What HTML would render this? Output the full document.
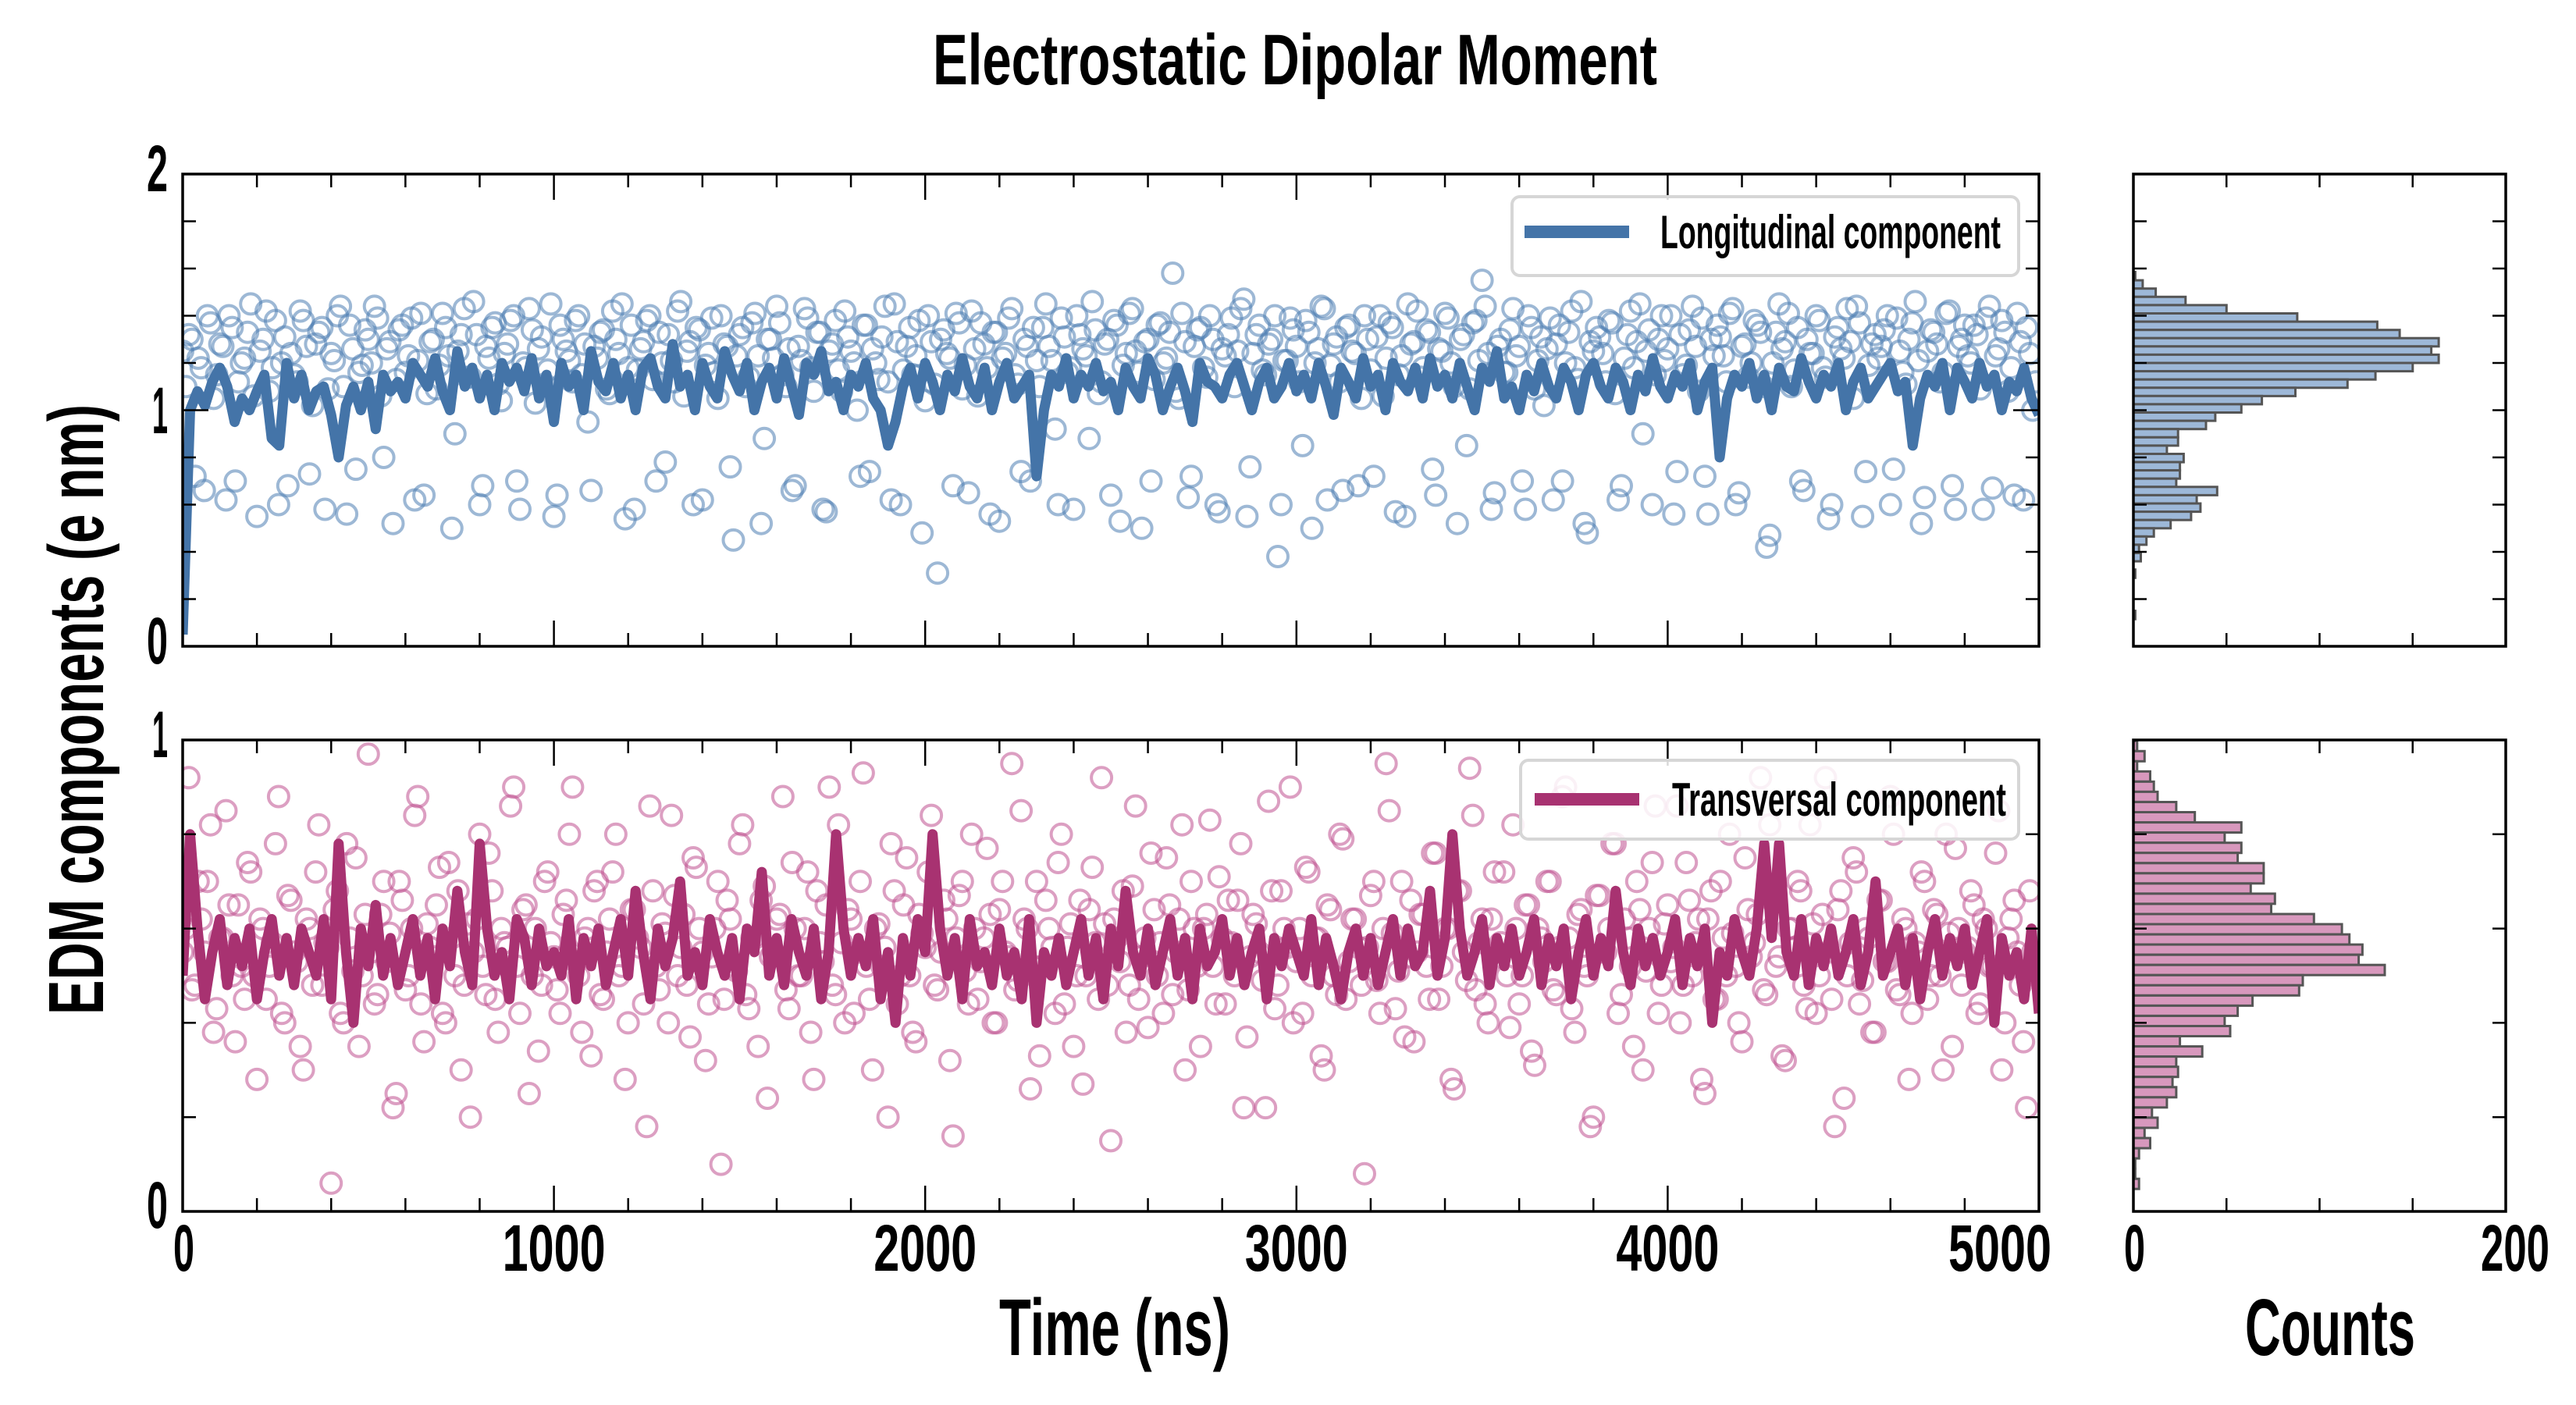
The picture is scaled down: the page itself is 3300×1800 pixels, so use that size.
<!DOCTYPE html>
<html><head><meta charset="utf-8"><style>
html,body{margin:0;padding:0;background:#fff;}
svg{display:block;font-family:"Liberation Sans Narrow","Liberation Sans",sans-serif;font-weight:bold;}
</style></head><body>
<svg id="fig" xmlns="http://www.w3.org/2000/svg" width="3300" height="1800" viewBox="0 0 3300 1800">
<defs>
<clipPath id="clipTop"><rect x="234" y="223" width="2378" height="605"/></clipPath>
<clipPath id="clipBot"><rect x="234" y="948" width="2378" height="604"/></clipPath>
</defs>
<text x="1659" y="108" text-anchor="middle" font-size="92" textLength="928" lengthAdjust="spacingAndGlyphs">Electrostatic Dipolar Moment</text>
<text transform="translate(132,909) rotate(-90)" text-anchor="middle" font-size="100" textLength="782" lengthAdjust="spacingAndGlyphs">EDM components (e nm)</text>
<text x="1428" y="1736" text-anchor="middle" font-size="103" textLength="296" lengthAdjust="spacingAndGlyphs">Time (ns)</text>
<text x="2985" y="1736" text-anchor="middle" font-size="103" textLength="218" lengthAdjust="spacingAndGlyphs">Counts</text>
<g id="gTop"></g>
<g id="gBot"></g>
<g id="gHT"></g>
<g id="gHB"></g>
<g id="gAx"></g>
<g>
<rect x="1937" y="252" width="649" height="101" rx="10" fill="#fff" fill-opacity="0.85" stroke="#d6d6d6" stroke-width="4"/>
<rect x="1953" y="289" width="134" height="16" fill="#4474a8"/>
<text x="2127" y="318" font-size="60" textLength="436" lengthAdjust="spacingAndGlyphs">Longitudinal component</text>
</g>
<g>
<rect x="1948" y="974" width="638" height="101" rx="10" fill="#fff" fill-opacity="0.85" stroke="#d6d6d6" stroke-width="4"/>
<rect x="1966" y="1016" width="134" height="16" fill="#a83271"/>
<text x="2142" y="1045" font-size="60" textLength="428" lengthAdjust="spacingAndGlyphs">Transversal component</text>
</g>
</svg>
<script>
const lineTopVals=[0.05,1.0,1.08,1.02,1.12,1.18,1.1,0.95,1.05,1.0,
1.08,1.15,0.88,0.85,1.2,1.05,1.15,1.0,1.08,1.1,
0.98,0.8,1.02,1.1,1.0,1.12,0.92,1.15,1.08,1.12,
1.05,1.2,1.15,1.1,1.22,1.08,1.0,1.25,1.1,1.18,
1.05,1.15,1.0,1.2,1.12,1.18,1.08,1.22,1.05,1.15,
0.95,1.2,1.1,1.15,1.0,1.25,1.12,1.08,1.2,1.05,
1.15,1.0,1.18,1.22,1.1,1.05,1.28,1.1,1.15,1.0,
1.2,1.1,1.05,1.25,1.15,1.08,1.2,1.0,1.12,1.18,
1.05,1.22,1.1,0.98,1.2,1.15,1.25,1.08,1.12,1.0,
1.15,1.1,1.2,1.05,1.0,0.85,0.95,1.1,1.18,1.05,
1.2,1.12,1.0,1.15,1.08,1.22,1.1,1.05,1.18,1.0,
1.12,1.2,1.05,1.1,1.15,0.72,1.0,1.15,1.1,1.22,
1.05,1.15,1.1,1.2,1.08,1.12,1.0,1.18,1.1,1.05,
1.22,1.15,1.0,1.1,1.18,1.08,0.95,1.2,1.12,1.1,
1.05,1.15,1.2,1.1,1.0,1.12,1.18,1.05,1.1,1.2,
1.08,1.15,1.05,1.2,1.1,0.98,1.18,1.12,1.05,1.22,
1.1,1.15,1.0,1.2,1.12,1.08,1.18,1.05,1.22,1.1,
1.15,1.05,1.2,1.1,1.0,1.18,1.12,1.25,1.05,1.1,
1.0,1.15,1.08,1.2,1.1,1.05,1.18,1.12,1.0,1.15,
1.2,1.1,1.05,1.18,1.12,1.0,1.15,1.08,1.22,1.1,
1.05,1.15,1.1,1.2,1.0,1.12,1.18,0.8,1.05,1.15,
1.1,1.2,1.05,1.15,1.0,1.18,1.1,1.08,1.22,1.12,
1.05,1.15,1.1,1.2,1.0,1.12,1.18,1.05,1.1,1.15,
1.2,1.08,1.12,0.85,1.05,1.15,1.1,1.2,1.0,1.18,
1.12,1.05,1.2,1.1,1.15,1.0,1.12,1.08,1.18,1.05,0.98];
const lineBotVals=[0.5,0.8,0.6,0.45,0.55,0.62,0.48,0.58,0.52,0.6,
0.45,0.55,0.62,0.5,0.58,0.48,0.6,0.55,0.5,0.62,
0.45,0.78,0.55,0.4,0.6,0.52,0.65,0.5,0.58,0.48,
0.55,0.62,0.5,0.58,0.45,0.6,0.52,0.68,0.55,0.48,
0.78,0.6,0.5,0.55,0.45,0.62,0.58,0.48,0.6,0.52,
0.55,0.5,0.62,0.45,0.58,0.52,0.6,0.48,0.55,0.62,
0.5,0.68,0.55,0.45,0.6,0.52,0.58,0.7,0.5,0.55,
0.48,0.62,0.55,0.5,0.58,0.45,0.6,0.55,0.72,0.5,
0.58,0.48,0.62,0.55,0.5,0.6,0.45,0.55,0.8,0.6,
0.5,0.58,0.52,0.62,0.45,0.55,0.4,0.58,0.5,0.62,
0.55,0.8,0.6,0.5,0.58,0.45,0.62,0.52,0.55,0.48,
0.6,0.5,0.55,0.45,0.62,0.4,0.55,0.5,0.58,0.48,
0.55,0.62,0.5,0.58,0.45,0.6,0.52,0.68,0.55,0.5,
0.6,0.48,0.55,0.62,0.5,0.58,0.45,0.6,0.52,0.55,
0.62,0.5,0.58,0.48,0.55,0.6,0.45,0.58,0.52,0.6,
0.55,0.5,0.62,0.48,0.58,0.52,0.45,0.55,0.6,0.5,
0.58,0.48,0.55,0.62,0.5,0.6,0.52,0.55,0.68,0.5,
0.58,0.8,0.6,0.5,0.55,0.62,0.48,0.58,0.52,0.6,
0.5,0.55,0.62,0.48,0.58,0.52,0.6,0.45,0.55,0.62,
0.5,0.58,0.52,0.68,0.55,0.48,0.6,0.52,0.58,0.5,
0.55,0.62,0.48,0.58,0.52,0.6,0.4,0.55,0.5,0.62,
0.55,0.5,0.6,0.78,0.58,0.78,0.55,0.5,0.62,0.48,
0.58,0.52,0.6,0.5,0.55,0.62,0.48,0.55,0.7,0.5,
0.55,0.6,0.48,0.58,0.45,0.55,0.62,0.5,0.58,0.52,
0.6,0.48,0.55,0.62,0.4,0.58,0.5,0.55,0.45,0.6,0.42];
const lineStepNs=20;
const scatTopVals=[1.25,1.32,0.72,1.18,1.4,1.05,1.28,0.62,1.35,1.12,
1.22,1.45,0.55,1.3,1.08,1.38,1.2,0.68,1.15,1.42,
1.27,1.02,1.33,0.58,1.24,1.4,1.1,1.36,0.75,1.19,
1.3,1.44,1.06,1.26,0.52,1.34,1.16,1.39,1.21,0.64,
1.29,1.09,1.41,1.23,0.9,1.32,1.14,1.46,0.6,1.27,
1.35,1.11,1.24,1.38,0.7,1.2,1.43,1.03,1.31,1.17,
0.55,1.36,1.25,1.12,1.4,1.28,0.66,1.22,1.34,1.07,
1.3,1.45,1.18,0.58,1.26,1.38,1.13,1.33,0.78,1.21,
1.42,1.06,1.29,1.35,0.62,1.24,1.16,1.4,1.27,0.45,
1.32,1.1,1.37,1.23,0.88,1.3,1.44,1.15,1.26,0.68,
1.21,1.39,1.08,1.33,0.57,1.28,1.17,1.42,1.25,1.0,
1.36,0.74,1.2,1.31,1.12,1.45,0.6,1.27,1.15,1.38,
1.04,1.29,0.31,1.34,1.22,1.41,1.09,0.65,1.26,1.37,
1.18,1.33,0.53,1.24,1.43,1.11,1.3,0.7,1.21,1.35,
1.27,0.92,1.39,1.16,0.58,1.32,1.23,1.46,1.07,1.28,
0.64,1.36,1.19,1.41,1.25,0.5,1.3,1.13,1.37,1.22,
1.58,1.05,1.29,0.72,1.34,1.18,1.4,0.6,1.26,1.32,
1.1,1.43,0.55,1.24,1.36,1.15,1.3,0.38,1.21,1.39,
1.27,0.85,1.33,1.2,1.44,0.62,1.28,1.12,1.35,1.25,
0.68,1.4,1.17,1.31,1.06,1.37,0.57,1.23,1.45,1.29,
1.14,1.34,0.75,1.26,1.41,1.2,0.52,1.32,1.09,1.38,
1.55,1.24,0.65,1.3,1.16,1.43,1.27,0.58,1.35,1.21,
1.02,1.39,1.28,0.7,1.33,1.18,1.46,0.48,1.25,1.31,
1.12,1.37,0.62,1.22,1.42,1.29,0.9,1.34,1.15,1.4,
1.26,0.56,1.32,1.19,1.44,1.08,0.72,1.3,1.36,1.23,
1.41,0.6,1.27,1.14,1.38,1.33,0.42,1.2,1.45,1.29,
1.1,1.35,0.66,1.24,1.4,1.18,0.54,1.31,1.26,1.43,
1.05,1.37,0.74,1.28,1.22,1.34,0.6,1.39,1.16,1.3,
1.46,0.52,1.25,1.33,1.12,1.41,0.68,1.27,1.36,1.2,
1.32,0.58,1.44,1.23,1.38,1.08,0.64,1.29,1.35,1.0];
const scatTopVals2=[1.1,1.3,1.22,0.66,1.37,1.15,1.27,1.4,0.7,1.2,
1.33,1.06,1.25,1.42,1.18,0.6,1.31,1.24,1.12,1.38,
0.73,1.28,1.35,1.09,1.21,1.44,0.56,1.26,1.16,1.34,
1.2,1.39,0.8,1.29,1.13,1.36,1.23,0.62,1.41,1.07,
1.3,1.19,1.35,0.5,1.25,1.43,1.14,1.32,0.68,1.22,
1.37,1.04,1.28,1.4,0.58,1.18,1.34,1.26,1.11,1.45,
0.64,1.3,1.21,1.38,1.15,0.95,1.27,1.33,1.09,1.42,
1.24,0.54,1.36,1.17,1.29,1.4,0.7,1.2,1.32,1.12,
1.46,1.25,0.6,1.34,1.19,1.39,1.05,1.28,0.76,1.23,
1.35,1.14,1.41,0.52,1.3,1.22,1.37,1.1,0.66,1.27,
1.43,1.18,1.33,0.58,1.25,1.38,1.08,1.31,1.2,0.72,
1.36,1.26,1.13,1.44,0.62,1.29,1.17,1.35,1.23,0.48,
1.4,1.11,1.3,1.24,0.68,1.37,1.19,1.42,1.06,1.28,
0.56,1.33,1.22,1.39,1.15,0.74,1.27,1.35,1.1,1.45,
1.21,0.6,1.31,1.18,1.4,1.26,0.88,1.34,1.12,1.3,
1.38,0.53,1.24,1.43,1.16,1.29,0.7,1.36,1.2,1.33,
1.08,1.41,0.63,1.27,1.35,1.14,1.3,0.57,1.23,1.39,
1.25,1.47,0.76,1.32,1.17,1.28,1.4,0.6,1.21,1.34,
1.12,1.38,0.5,1.26,1.43,1.19,1.31,0.66,1.36,1.24,
1.05,1.3,0.72,1.4,1.22,1.35,1.15,0.55,1.28,1.42,
1.18,1.33,0.64,1.25,1.39,1.1,1.3,0.85,1.37,1.21,
1.44,0.58,1.27,1.16,1.34,1.23,0.7,1.4,1.09,1.31,
1.26,0.62,1.36,1.2,1.42,1.13,0.52,1.29,1.35,1.24,
1.38,1.07,0.68,1.32,1.18,1.45,1.25,0.6,1.3,1.21,
1.4,0.74,1.15,1.34,1.27,1.39,0.56,1.23,1.31,1.12,
1.43,0.65,1.28,1.2,1.36,1.1,0.47,1.33,1.26,1.41,
1.17,0.7,1.3,1.24,1.38,1.14,0.6,1.35,1.22,1.29,
1.44,0.55,1.19,1.32,1.27,1.4,0.75,1.25,1.11,1.37,
1.21,0.63,1.34,1.28,1.16,1.42,0.58,1.3,1.23,1.36,
1.09,1.39,0.67,1.26,1.33,1.18,1.41,0.62,1.24,1.12];
const scatBotVals=[0.55,0.92,0.48,0.62,0.7,0.38,0.58,0.85,0.5,0.65,
0.45,0.72,0.28,0.6,0.52,0.78,0.42,0.67,0.55,0.35,
0.62,0.48,0.82,0.57,0.06,0.68,0.4,0.58,0.75,0.5,
0.97,0.44,0.63,0.53,0.22,0.7,0.47,0.6,0.88,0.36,
0.56,0.65,0.42,0.74,0.5,0.3,0.61,0.55,0.8,0.46,
0.68,0.38,0.57,0.86,0.52,0.64,0.25,0.6,0.48,0.72,
0.54,0.42,0.66,0.9,0.5,0.58,0.33,0.7,0.45,0.62,
0.8,0.52,0.4,0.64,0.56,0.18,0.68,0.47,0.59,0.84,
0.5,0.63,0.37,0.73,0.55,0.44,0.6,0.1,0.66,0.52,
0.78,0.46,0.58,0.35,0.69,0.54,0.62,0.88,0.43,0.6,
0.5,0.72,0.28,0.57,0.65,0.48,0.82,0.4,0.62,0.55,
0.93,0.45,0.6,0.52,0.2,0.68,0.5,0.75,0.38,0.63,
0.56,0.84,0.47,0.66,0.32,0.58,0.7,0.44,0.6,0.53,
0.77,0.4,0.64,0.55,0.95,0.49,0.62,0.26,0.7,0.52,
0.6,0.42,0.8,0.56,0.35,0.66,0.5,0.73,0.45,0.61,
0.15,0.58,0.68,0.48,0.86,0.54,0.39,0.64,0.57,0.75,
0.46,0.62,0.3,0.7,0.52,0.6,0.83,0.44,0.58,0.66,
0.5,0.78,0.37,0.63,0.55,0.22,0.68,0.48,0.6,0.9,
0.53,0.42,0.72,0.58,0.33,0.65,0.5,0.8,0.45,0.62,
0.56,0.08,0.67,0.49,0.6,0.85,0.43,0.7,0.54,0.36,
0.63,0.52,0.76,0.45,0.6,0.28,0.68,0.55,0.94,0.47,
0.62,0.4,0.72,0.57,0.5,0.82,0.44,0.65,0.34,0.6,
0.53,0.7,0.46,0.88,0.58,0.38,0.64,0.5,0.2,0.67,
0.55,0.78,0.42,0.62,0.52,0.7,0.3,0.6,0.86,0.48,
0.65,0.56,0.4,0.74,0.5,0.62,0.25,0.68,0.45,0.58,
0.8,0.52,0.36,0.64,0.57,0.92,0.46,0.66,0.54,0.32,
0.6,0.7,0.48,0.82,0.42,0.63,0.55,0.18,0.68,0.5,
0.75,0.44,0.6,0.38,0.66,0.53,0.88,0.47,0.62,0.28,
0.57,0.72,0.45,0.64,0.5,0.8,0.35,0.6,0.55,0.68,
0.42,0.62,0.52,0.76,0.3,0.58,0.66,0.48,0.22,0.55];
const scatBotVals2=[0.6,0.47,0.7,0.55,0.82,0.43,0.58,0.65,0.36,0.52,
0.74,0.5,0.62,0.45,0.57,0.88,0.4,0.66,0.53,0.3,
0.6,0.72,0.48,0.56,0.64,0.42,0.78,0.51,0.35,0.63,
0.55,0.46,0.7,0.59,0.25,0.66,0.5,0.84,0.44,0.61,
0.54,0.73,0.4,0.58,0.68,0.48,0.2,0.62,0.52,0.76,
0.45,0.6,0.56,0.9,0.42,0.65,0.5,0.34,0.7,0.57,
0.47,0.63,0.8,0.53,0.38,0.6,0.68,0.46,0.55,0.72,
0.5,0.28,0.64,0.58,0.44,0.86,0.52,0.61,0.4,0.67,
0.56,0.48,0.75,0.6,0.32,0.54,0.7,0.45,0.62,0.51,
0.82,0.43,0.58,0.66,0.24,0.55,0.63,0.47,0.74,0.5,
0.6,0.38,0.68,0.53,0.9,0.46,0.57,0.64,0.42,0.7,
0.52,0.3,0.61,0.56,0.78,0.44,0.65,0.5,0.36,0.59,
0.72,0.48,0.55,0.62,0.16,0.67,0.51,0.8,0.45,0.58,
0.63,0.4,0.7,0.54,0.47,0.85,0.6,0.52,0.33,0.66,
0.56,0.74,0.44,0.61,0.5,0.27,0.64,0.57,0.92,0.48,
0.62,0.53,0.38,0.69,0.45,0.58,0.76,0.5,0.42,0.65,
0.55,0.82,0.47,0.6,0.35,0.63,0.52,0.71,0.44,0.57,
0.66,0.22,0.54,0.61,0.49,0.87,0.43,0.68,0.56,0.4,
0.6,0.73,0.5,0.58,0.3,0.64,0.46,0.79,0.53,0.62,
0.48,0.56,0.7,0.42,0.95,0.59,0.51,0.37,0.66,0.55,
0.63,0.45,0.76,0.52,0.6,0.26,0.68,0.49,0.84,0.57,
0.44,0.62,0.54,0.72,0.39,0.6,0.5,0.65,0.31,0.58,
0.7,0.47,0.56,0.9,0.43,0.63,0.52,0.18,0.67,0.55,
0.6,0.78,0.46,0.58,0.35,0.64,0.51,0.74,0.42,0.61,
0.53,0.86,0.48,0.66,0.57,0.28,0.62,0.45,0.7,0.5,
0.59,0.4,0.75,0.54,0.63,0.47,0.82,0.52,0.33,0.6,
0.56,0.68,0.43,0.61,0.5,0.92,0.45,0.64,0.24,0.57,
0.72,0.49,0.58,0.38,0.66,0.53,0.8,0.46,0.6,0.42,
0.55,0.7,0.5,0.63,0.3,0.59,0.77,0.48,0.56,0.65,
0.44,0.6,0.52,0.85,0.4,0.62,0.55,0.36,0.68,0.5];
const histTopCounts=[1,5,12,28,50,88,131,143,164,160,164,150,130,115,87,69,58,44,39,24,24,18,27,25,25,23,45,34,36,31,20,11,7,3,4,0,1,0,0,0,0,1];
const histTopStart=1.585, histTopBin=0.035;
const histBotCounts=[2,6,2,9,11,13,23,33,58,49,58,56,70,70,63,76,74,97,112,116,123,121,135,91,89,64,56,49,52,25,37,23,24,21,23,18,10,13,6,9,3,1,1,3];
const histBotStart=0.998, histBotBin=0.0216;
const timeTicks=[0,1000,2000,3000,4000,5000];
const countTicks=[0,200];

const NS="http://www.w3.org/2000/svg";
function mk(tag,parent,attrs){const e=document.createElementNS(NS,tag);for(const k in attrs)e.setAttribute(k,attrs[k]);parent.appendChild(e);return e;}
const X0=234,X1=2612,TT=223,TB=828,BT=948,BB=1552,H0=2733,H1=3210;
const xT=t=>X0+t/5000*(X1-X0);
const yTop=v=>TB-v/2*(TB-TT);
const yBot=v=>BB-v*(BB-BT);
const hx=c=>H0+c/200*(H1-H0);

function scatter(cg,scat,offset,ys,col,nm){
  const step=5000/scat.length;
  scat.forEach((v,i)=>{
    const c=mk('circle',cg,{cx:xT((i+offset)*step).toFixed(1),cy:ys(v).toFixed(1),r:13,fill:'none',stroke:col,'stroke-opacity':0.55,'stroke-width':4});
    
    
  });
}
function panel(g,clip,scatA,scatB,line,ys,col,lcol,nm){
  const cg=mk('g',g,{'clip-path':'url(#'+clip+')'});
  scatter(cg,scatA,0,ys,col,nm);
  scatter(cg,scatB,0.5,ys,col,nm);
  const d=line.map((v,i)=>(i?'L':'M')+xT(i*lineStepNs).toFixed(1)+' '+ys(v).toFixed(1)).join(' ');
  const p=mk('path',cg,{d:d,fill:'none',stroke:lcol,'stroke-width':13,'stroke-linejoin':'round'});
  
  
}
panel(document.getElementById('gTop'),'clipTop',scatTopVals,scatTopVals2,lineTopVals,yTop,'#4c7db3','#4474a8','longitudinal');
panel(document.getElementById('gBot'),'clipBot',scatBotVals,scatBotVals2,lineBotVals,yBot,'#c0508f','#a83271','transversal');

function hist(g,counts,start,bin,ys,fill,nm){
  counts.forEach((c,i)=>{
    if(c<=0)return;
    const hi=start-i*bin, lo=hi-bin;
    const r=mk('rect',g,{x:H0,y:ys(hi).toFixed(1),width:(hx(c)-H0).toFixed(1),height:(ys(lo)-ys(hi)).toFixed(1),fill:fill,stroke:'#555','stroke-width':3});
    
    
  });
}
hist(document.getElementById('gHT'),histTopCounts,histTopStart,histTopBin,yTop,'#9db8d8','longitudinal-hist');
hist(document.getElementById('gHB'),histBotCounts,histBotStart,histBotBin,yBot,'#d898bd','transversal-hist');

const ax=document.getElementById('gAx');
function frame(x0,x1,y0,y1){mk('rect',ax,{x:x0,y:y0,width:x1-x0,height:y1-y0,fill:'none',stroke:'#000','stroke-width':3.5});}
function tk(x1,y1,x2,y2){mk('line',ax,{x1:x1,y1:y1,x2:x2,y2:y2,stroke:'#000','stroke-width':2.5});}
function label(x,y,txt,anchor,w,nm){
  const t=mk('text',ax,{x:x,y:y,'text-anchor':anchor,'font-size':84,textLength:w,lengthAdjust:'spacingAndGlyphs'});
  t.textContent=txt;
  
  
}
[[TT,TB],[BT,BB]].forEach(([y0,y1],pi)=>{
  frame(X0,X1,y0,y1);
  for(let t=0;t<=5000;t+=200){const x=xT(t),L=(t%1000===0)?33:17;tk(x,y1,x,y1-L);tk(x,y0,x,y0+L);}
  const n=pi===0?10:5;
  for(let k=0;k<=n;k++){const y=y1-(y1-y0)*k/n;const L=(k%5===0)?33:17;tk(X0,y,X0+L,y);tk(X1,y,X1-L,y);}
  frame(H0,H1,y0,y1);
  for(let c=0;c<=200;c+=50){const x=hx(c);tk(x,y1,x,y1-17);tk(x,y0,x,y0+17);}
  for(let k=0;k<=n;k++){const y=y1-(y1-y0)*k/n;tk(H0,y,H0+17,y);tk(H1,y,H1-17,y);}
});
label(215,245,'2','end',27,'y-tick-2');
label(215,850,'0','end',27,'y-tick-0-top');
label(215,555,'1','end',20,'y-tick-1');
label(215,970,'1','end',20,'y-tick-1-bottom');
label(215,1573,'0','end',27,'y-tick-0-bottom');
timeTicks.forEach(t=>{const w=t===0?27:132;label(t===0?xT(t)-12:(t===5000?xT(t)-50:xT(t)),1628,String(t),t===0?'start':'middle',w,'x-tick-'+t);});
countTicks.forEach(c=>{label(c===0?hx(c)-12:hx(c)+12,1628,String(c),c===0?'start':'middle',c===0?27:88,'count-tick-'+c);});
</script>
</body></html>
